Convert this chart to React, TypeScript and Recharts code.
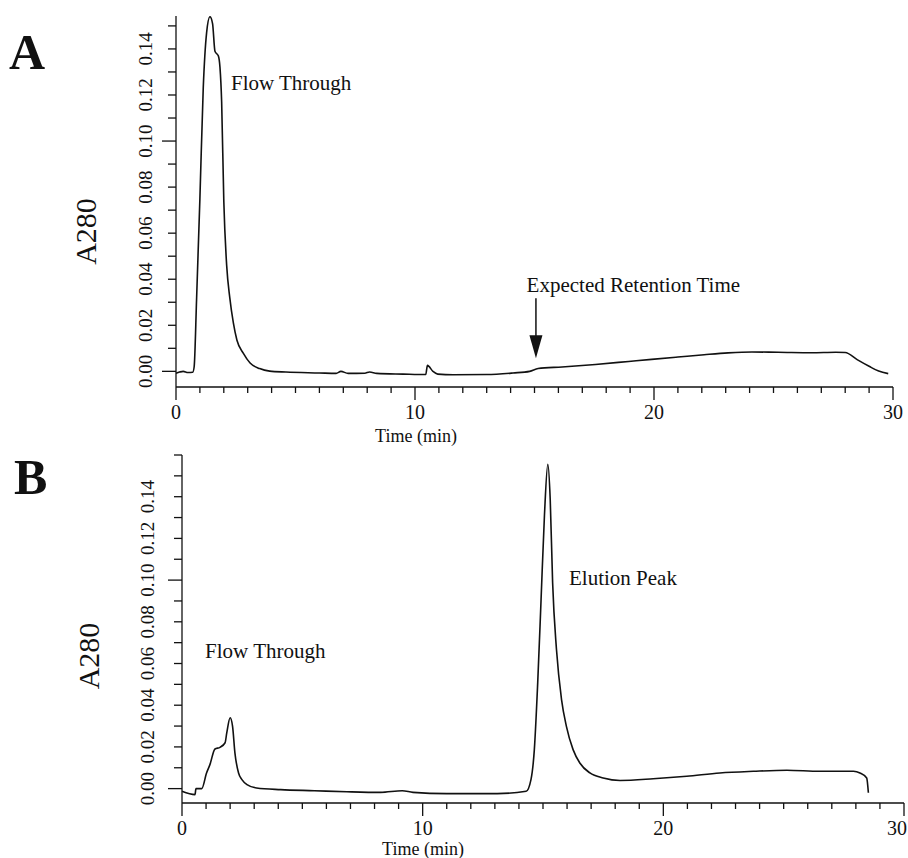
import React from "react";
import { LineChart, Line, XAxis, YAxis, ReferenceDot, ReferenceLine } from "recharts";

// Panel A: no binding, only flow-through
const timeA = [
  0, 0.15, 0.3, 0.5, 0.7, 0.76, 0.86, 1.0, 1.14, 1.28, 1.42, 1.53, 1.63, 1.77, 1.84, 1.91, 2.0, 2.12,
  2.25, 2.4, 2.55, 2.82, 3.1, 3.5, 3.92, 4.6, 6.0, 6.7, 6.9, 7.2, 7.9, 8.1, 8.4, 9.5, 10.45, 10.52,
  10.75, 10.95, 11.6, 13.0, 14.1, 14.8, 15.15, 16.15, 17.55, 18.94, 19.9, 21.0, 22.1, 23.1, 24.1,
  25.2, 26.6, 27.6, 28.0, 28.5, 29.0, 29.4, 29.8,
];
const a280A = [
  -0.0008, -0.0003, 0.0, -0.0005, -0.0004, 0.002, 0.031, 0.075, 0.123, 0.147, 0.154, 0.151, 0.139,
  0.137, 0.132, 0.117, 0.074, 0.046, 0.032, 0.021, 0.0135, 0.0078, 0.0036, 0.0012, 0.0001, -0.0003,
  -0.0007, -0.0009, 0.0, -0.0009, -0.0008, -0.0003, -0.0009, -0.0012, -0.0014, 0.0026, 0.0, -0.0012,
  -0.0015, -0.0014, -0.0007, 0.0, 0.0012, 0.0019, 0.003, 0.0043, 0.0052, 0.0062, 0.0072, 0.008,
  0.0084, 0.0083, 0.0081, 0.0083, 0.0082, 0.0051, 0.0022, 0.0001, -0.001,
];

// Panel B: flow-through plus elution peak
const timeB = [
  0, 0.54, 0.58, 0.82, 1.02, 1.16, 1.37, 1.58, 1.79, 1.86, 2.0, 2.1, 2.2, 2.35, 2.49, 2.7, 3.1, 4.1,
  5.5, 6.85, 8.25, 9.15, 9.6, 11.0, 13.1, 14.3, 14.5, 14.64, 14.78, 14.92, 15.06, 15.2, 15.3, 15.4,
  15.56, 15.77, 15.97, 16.25, 16.53, 16.95, 17.5, 18.2, 19.58, 20.97, 22.35, 23.74, 25.13, 26.5,
  27.9, 28.17, 28.45, 28.52,
];
const a280B = [
  -0.0013, -0.0029, 0.0, 0.0, 0.0075, 0.0115, 0.019, 0.0198, 0.022, 0.0267, 0.034, 0.03, 0.017,
  0.0075, 0.0043, 0.0019, 0.0003, -0.0005, -0.001, -0.0015, -0.0018, -0.001, -0.0018, -0.0024,
  -0.0024, -0.0013, 0.0043, 0.0187, 0.0507, 0.0907, 0.131, 0.1555, 0.1387, 0.0987, 0.0667, 0.0427,
  0.03, 0.0187, 0.0123, 0.0075, 0.0051, 0.0039, 0.0047, 0.0059, 0.0075, 0.0083, 0.0088, 0.0083,
  0.0083, 0.0075, 0.0051, -0.002,
];

const xTicks = [
  0, 1, 2, 3, 4, 5, 6, 7, 8, 9, 10, 11, 12, 13, 14, 15, 16, 17, 18, 19, 20, 21, 22, 23, 24, 25, 26,
  27, 28, 29, 30,
];
const xTickLabels = [0, 10, 20, 30];
const yTicksA = [0, 0.01, 0.02, 0.03, 0.04, 0.05, 0.06, 0.07, 0.08, 0.09, 0.1, 0.11, 0.12, 0.13, 0.14, 0.15];
const yTicksB = [...yTicksA, 0.16];
const yTickLabels = [0, 0.02, 0.04, 0.06, 0.08, 0.1, 0.12, 0.14];

const dataA = timeA.map((t, i) => ({ t, v: a280A[i] }));
const dataB = timeB.map((t, i) => ({ t, v: a280B[i] }));

const FONT = "'Liberation Serif', 'Times New Roman', serif";
const INK = "#111";

function XTick({ x, y, payload }: any) {
  const v = payload.value;
  const major = xTickLabels.includes(v);
  // keep the last label inside the page
  const nearEdge = x + 12 > 906;
  return (
    <g>
      <line x1={x} y1={y} x2={x} y2={y + (major ? 13 : 6)} stroke={INK} strokeWidth={1.3} />
      {major && (
        <text
          x={nearEdge ? 907 : x}
          y={y + 32}
          textAnchor={nearEdge ? "end" : "middle"}
          fontSize={20}
          fontFamily={FONT}
          fill={INK}
        >
          {v}
        </text>
      )}
    </g>
  );
}

const makeYTick = (offset: number) =>
  function YTick({ x, y, payload }: any) {
    const v = payload.value;
    const major = Math.round(v * 100) % 10 === 0;
    const labelled = yTickLabels.some((l) => Math.abs(l - v) < 1e-9);
    const lx = x - offset;
    return (
      <g>
        <line x1={x - (major ? 14 : 8)} y1={y} x2={x} y2={y} stroke={INK} strokeWidth={1.3} />
        {labelled && (
          <text
            x={lx}
            y={y}
            transform={`rotate(-90 ${lx} ${y})`}
            textAnchor="middle"
            dominantBaseline="central"
            fontSize={19}
            fontFamily={FONT}
            fill={INK}
          >
            {v.toFixed(2)}
          </text>
        )}
      </g>
    );
  };

const yAxisLabel = (offset: number, shift: number) => (props: any) => {
  const { x, y, width, height } = props.viewBox;
  const cx = x + width - offset;
  const cy = y + height / 2 + shift;
  return (
    <text
      x={cx}
      y={cy}
      transform={`rotate(-90 ${cx} ${cy})`}
      textAnchor="middle"
      dominantBaseline="central"
      fontSize={30}
      fontFamily={FONT}
      fill={INK}
    >
      A280
    </text>
  );
};

const xAxisLabel = (dx: number, dy: number) => (props: any) => {
  const { x, y } = props.viewBox;
  return (
    <text x={x + dx} y={y + dy} textAnchor="middle" fontSize={18} fontFamily={FONT} fill={INK}>
      Time (min)
    </text>
  );
};

const note = (text: string) => (p: any) => (
  <text x={p.cx} y={p.cy} dominantBaseline="central" fontSize={21} fontFamily={FONT} fill={INK}>
    {text}
  </text>
);

const arrowHead = (p: any) => (
  <polygon points={`${p.cx - 6.5},${p.cy - 23} ${p.cx + 6.5},${p.cy - 23} ${p.cx},${p.cy}`} fill={INK} />
);

const letterStyle: React.CSSProperties = {
  position: "absolute",
  fontFamily: FONT,
  fontWeight: "bold",
  fontSize: 50,
  lineHeight: 1,
  color: INK,
};

export default function App() {
  return (
    <div style={{ position: "absolute", left: 0, top: 0, width: 908, height: 858, background: "#fff" }}>
      <div style={{ ...letterStyle, left: 9, top: 27 }}>A</div>
      <div style={{ ...letterStyle, left: 14, top: 452 }}>B</div>

      <div style={{ position: "absolute", left: 0, top: 0 }}>
        <LineChart width={908} height={450} data={dataA} margin={{ top: 16, left: 116, right: 15, bottom: 33 }}>
          <XAxis
            dataKey="t"
            type="number"
            domain={[0, 30]}
            ticks={xTicks}
            interval={0}
            tickSize={0}
            tickMargin={0}
            tickLine={false}
            tick={<XTick />}
            height={30}
            axisLine={{ stroke: INK, strokeWidth: 1.3 }}
            label={{ content: xAxisLabel(240, 55) }}
          />
          <YAxis
            type="number"
            domain={[-0.0068, 0.1543]}
            allowDataOverflow
            ticks={yTicksA}
            interval={0}
            tickSize={0}
            tickMargin={0}
            tickLine={false}
            tick={makeYTick(30)}
            width={60}
            axisLine={{ stroke: INK, strokeWidth: 1.3 }}
            label={{ content: yAxisLabel(91, 30) }}
          />
          <Line type="monotone" dataKey="v" stroke={INK} strokeWidth={1.6} dot={false} isAnimationActive={false} />
          <ReferenceDot x={2.3} y={0.125} r={0} ifOverflow="visible" shape={note("Flow Through")} />
          <ReferenceDot x={14.67} y={0.0374} r={0} ifOverflow="visible" shape={note("Expected Retention Time")} />
          <ReferenceLine
            segment={[
              { x: 15.06, y: 0.0317 },
              { x: 15.06, y: 0.0075 },
            ]}
            stroke={INK}
            strokeWidth={1.5}
            ifOverflow="visible"
          />
          <ReferenceDot x={15.06} y={0.0057} r={0} ifOverflow="visible" shape={arrowHead} />
        </LineChart>
      </div>

      <div style={{ position: "absolute", left: 0, top: 450 }}>
        <LineChart width={908} height={408} data={dataB} margin={{ top: 5, left: 122, right: 4, bottom: 25 }}>
          <XAxis
            dataKey="t"
            type="number"
            domain={[0, 30]}
            ticks={xTicks}
            interval={0}
            tickSize={0}
            tickMargin={0}
            tickLine={false}
            tick={<XTick />}
            height={30}
            axisLine={{ stroke: INK, strokeWidth: 1.3 }}
            label={{ content: xAxisLabel(241, 52) }}
          />
          <YAxis
            type="number"
            domain={[-0.0069, 0.16]}
            allowDataOverflow
            ticks={yTicksB}
            interval={0}
            tickSize={0}
            tickMargin={0}
            tickLine={false}
            tick={makeYTick(34)}
            width={60}
            axisLine={{ stroke: INK, strokeWidth: 1.3 }}
            label={{ content: yAxisLabel(94, 27) }}
          />
          <Line type="monotone" dataKey="v" stroke={INK} strokeWidth={1.6} dot={false} isAnimationActive={false} />
          <ReferenceDot x={0.96} y={0.066} r={0} ifOverflow="visible" shape={note("Flow Through")} />
          <ReferenceDot x={16.08} y={0.101} r={0} ifOverflow="visible" shape={note("Elution Peak")} />
        </LineChart>
      </div>
    </div>
  );
}
